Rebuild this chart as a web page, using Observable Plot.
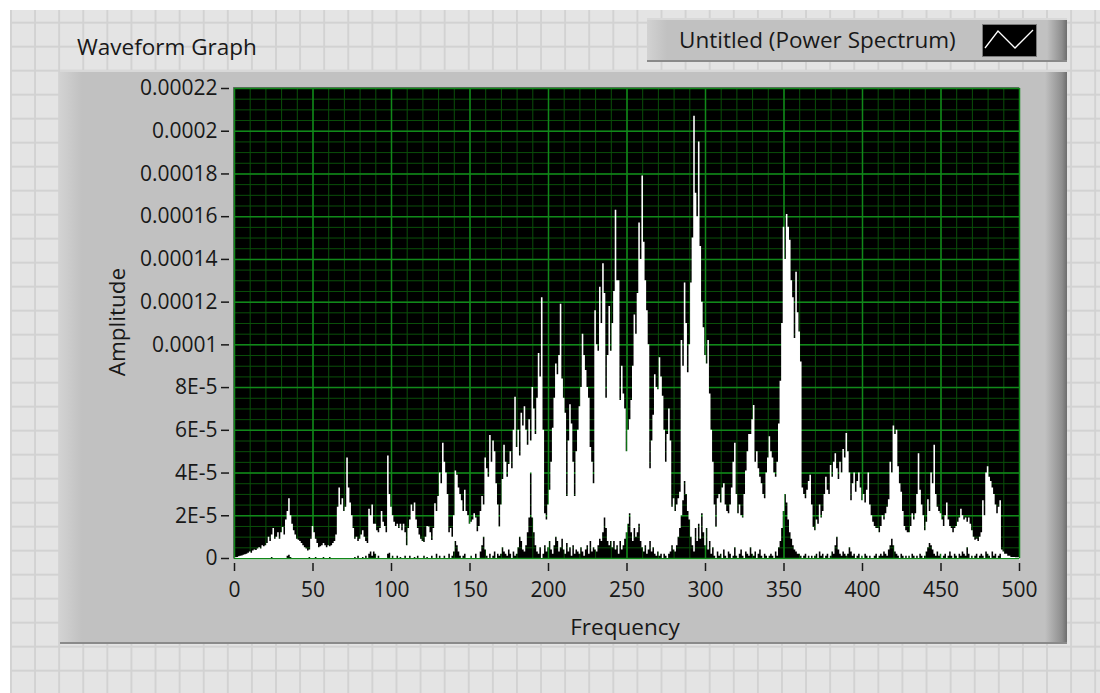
<!DOCTYPE html>
<html>
<head>
<meta charset="utf-8">
<script src="https://cdn.jsdelivr.net/npm/d3@7"></script>
<script src="https://cdn.jsdelivr.net/npm/@observablehq/plot@0.6"></script>
<style>
  html, body { margin: 0; padding: 0; }
  body { width: 1100px; height: 693px; position: relative; overflow: hidden; background: #ffffff;
         font-family: "Open Sans", "Noto Sans", sans-serif; color: #181818; }
  #bg { position: absolute; left: 10px; top: 10px; right: 0; bottom: 0;
        background-color: #e4e4e4;
        background-image: linear-gradient(to right, #d2d2d2 2px, transparent 2px),
                          linear-gradient(to bottom, #d2d2d2 2px, transparent 2px);
        background-size: 24.1px 24px; background-position: 0 11.7px; }
  #panel { position: absolute; left: 60px; top: 70px; width: 1007px; height: 574px;
           background: linear-gradient(to right, #d2d2d2 0px, #c1c1c1 22px, #c1c1c1 calc(100% - 22px), #8e8e8e calc(100% - 5px), #6e6e6e 100%);
           box-shadow: inset 0 2px 0 #d8d8d8, inset 0 -2px 0 #8a8a8a; }
  #legend { position: absolute; left: 647px; top: 18px; width: 420px; height: 44px;
           background: linear-gradient(to right, #d2d2d2 0px, #c1c1c1 20px, #c1c1c1 calc(100% - 20px), #8e8e8e calc(100% - 5px), #6e6e6e 100%);
           box-shadow: inset 0 2px 0 #d8d8d8, inset 0 -2px 0 #8a8a8a; }
  #legend .txt { position: absolute; left: 32px; top: 0; line-height: 44px; font-size: 22.5px; white-space: nowrap; }
  #legend svg { position: absolute; left: 335px; top: 6px; }
  #title { position: absolute; left: 77px; top: 32px; font-size: 22.5px; line-height: 30px; white-space: nowrap; }
  #plotbox { position: absolute; left: 233px; top: 87px; width: 785px; height: 470px;
             border-left: 1px solid #6a6a6a; border-top: 1px solid #6a6a6a;
             border-right: 1px solid #e2e2e2; border-bottom: 2px solid #e2e2e2; }
  #chart { position: absolute; left: 0; top: 0; }
  .alabel { position: absolute; font-size: 22.5px; white-space: nowrap; line-height: 28px; }
</style>
</head>
<body>
<div id="bg"></div>
<div id="panel"></div>
<div id="legend">
  <div class="txt">Untitled (Power Spectrum)</div>
  <svg width="55" height="33" viewBox="0 0 55 33">
    <rect x="0.5" y="0.5" width="54" height="32" fill="#000" stroke="#7a7a7a"/>
    <polyline points="3,24 16,7 33,24 51,6" fill="none" stroke="#fff" stroke-width="1.3"/>
  </svg>
</div>
<div id="title">Waveform Graph</div>
<div id="plotbox"></div>
<div id="chart"></div>
<div class="alabel" id="xlab" style="left:625px; top:613px; transform: translateX(-50%);">Frequency</div>
<div class="alabel" id="ylab" style="left:117px; top:322px; transform: translate(-50%,-50%) rotate(-90deg);">Amplitude</div>
<script>
// Frequency bins (Hz), one per spectrum sample
const freqs = d3.range(0, 501);

// Upper envelope of the power spectrum, in units of 1e-6 (one value per Hz, 0..500)
const peakValues = [
  0,0.3,0.5,0.8,1,1.2,1.5,1.8,2,2.5,
  3,2.5,3.5,4,3.8,4.5,5,4.5,6,5.5,
  6,7,10,8,11,14,9,10,12,9,
  12,14.5,11,18,22,28,20,16,13,11,
  9,8.5,8,7,6,5,4.5,3.5,4,9,
  15,12,9,7,5,5.5,6,7,6,5,
  6,5.5,6,7,8,11,24,33,25,28,
  22,24,47,33,26,20,14,9,10,8,
  9,11,13,10,8,7,23,20,25,16,
  16,13,12,14,22,17,15,12,48,30,
  24,20,17,15,16,14,16,13,16,12,
  6,14,18,25,22,26,18,14,11,9,
  8,7.5,10,15,14.7,12,8.4,14,25.6,22,
  29,40,35,54,45,40,30,12,14,10,
  20,41,39,33,30,27,22,32,22,20,
  16,17,18,21,19,12.5,15,22,29,25,
  47,42,38,57.6,45,55,50,35,25,14.7,
  25,37,53,45,38,44,50,42,60,75.5,
  52,60,48,68,62,71,60,53,65,55,
  80,70,58,75,96,85,122,60,21,18,
  25,32,45,61,75,91,86,95,119,84,
  75,68,29,55,72,63,45,29,50,60,
  71,80,105,95,88,80,75,52,45,35,
  116,100,97,127,110,138,124,75,95,118,
  97,110,125,163,130,130,74,90,77,70,
  50,60,65,74,90,114,105,124,157,140,
  179,148,130,116,100,42,55,67,86,80,
  79,94,85,76,60,45,58,70,55,24,
  28,22,25,28,31,102,90,129,110,87,
  100,129,150,207,171,160,195,146,120,108,
  95,91,102,77,60,45,25,14.6,28,30,
  26,33,35,25,22,21,25,33,45,54,
  30,21,25,20,19,30,41,50,58,58,
  65,71.6,45,50,42,38,35,30,28,40,
  47,57,50,47,40,38,45,63,83,110,
  155,140,161,155,149,130,122,103,134,115,
  106,92,33,30,28,32,36,39,25,14.5,
  13,18,16,25,19,22,30,38,32,30,
  43.5,38,45,49,42,37,45,40,51,47,
  58.5,50,40,27,35,40,31,36,40,33,
  27,30,26,32,40,25,20,17,15,14,
  14,12,15,20,18,21,24,27.5,45,40,
  62,58,60,43,35,31,22,15,13,12,
  12,15,21,18,21,30,49,32,25,20,
  13,17,27.5,22,40,35,53,30,24,22,
  21,18,15,20,26,18,15,14,12,14,
  15,17,19,23,20,18,19,17,19,16,
  13,10,8.5,9,8,10,12,27,20,40,
  43,38,36,33,30,25,21,24,27,4,
  3,2,2,1,1,0.5,0.5,0.5,0.3,0.3,
  0.3
];

// Lower envelope of the spectrum trace, in units of 1e-6 (one value per Hz, 0..500)
const troughValues = [
  0,0,0,0,0,0,0,0,0,0,
  0,0,0,0,0,0,0,0,0,0,
  0,0,0,0,0.5,0,0,0,0,0,
  0,0,0,0,1,1.5,0.5,0,0,0,
  0,0,0,0,0,0,0,0,0.5,0,
  0,0,0.5,0,0,0,0,0.5,0,0,
  0,0.5,0,0,0,0,0,0,0,0,
  0,0,0,0,0,0,0,0.5,0,1,
  0,0,0.5,0,1,0,2,3,1,3,
  2,0,1,0,0,0,0,0,2,2.5,
  0,1,0,0,1,0,0.5,0,0,1,
  0,0,1,0,0,0.5,0,1,0,0,
  0,1,0,0.5,0,0,1,0,0,2,
  0,1,0,0,1,0,0,2,0,1,
  3,8,6,3,1,0,1,2,0,0,
  0,1,0,0,2,0,0,3,6,10,
  4,1,0,2,0,1,3,0,2,1,
  2,5,3,2,1,4,2,0,3,1,
  2,5,10,8,4,3,6,12,19,40,
  19,12,6,3,2,5,0,2,6,3,
  5,8,4,2,6,10,8,3,5,9,
  4,2,7,3,5,1,6,2,4,3,
  2,5,3,1,4,6,2,8,3,5,
  4,3,6,9,8,12,19,14,8,6,
  8,5,8,4,6,2,8,4,6,9,
  12,16,21,12,8,14,10,12,16,8,
  5,3,6,2,4,8,3,5,2,1,
  3,1,2,0,2,1,0,2,3,6,
  4,3,6,10,14,20,27,36,30,22,
  18,10,6,3,14,8,16,9,21,12,
  6,14,4,8,2,5,1,0,3,1,
  2,0,4,1,0,3,2,0,1,5,
  1,0,2,4,1,0,3,2,1,5,
  2,1,3,0,2,4,1,0,2,1,
  0,1,2,1,0,3,1,5,8,14,
  22,30,26,18,12,9,6,4,3,2,
  2,1,0,1,2,0,1,0,1,0,
  1,2,0,3,1,2,0,1,2,0,
  1,3,2,6,10,4,2,1,3,2,
  1,2,5,3,1,2,0,1,2,0,
  1,0,2,1,0,1,0,0,1,2,
  0,1,2,1,3,2,1,4,6,9,
  6,3,2,1,0,2,1,0,1,0,
  1,0,2,1,0,1,0,2,1,0,
  1,3,5,7,6,4,2,1,3,1,
  2,0,1,2,0,1,3,1,0,2,
  1,0,2,1,3,2,1,5,2,0,
  1,0,1,2,0,1,2,1,0,3,
  2,1,0,3,1,2,0,1,2,0,
  0,0,0,0,0,0,0,0,0,0,
  0
];

// Axis ticks and labels
const xTicks = [0, 50, 100, 150, 200, 250, 300, 350, 400, 450, 500];
const yTicks = [0, 0.00002, 0.00004, 0.00006, 0.00008, 0.0001, 0.00012, 0.00014, 0.00016, 0.00018, 0.0002, 0.00022];
const yLabels = ["0", "2E-5", "4E-5", "6E-5", "8E-5", "0.0001", "0.00012", "0.00014", "0.00016", "0.00018", "0.0002", "0.00022"];
const xMinorTicks = d3.range(0, 501, 10);
const yMinorTicks = d3.range(0, 45).map(k => k * 0.000005);

const data = freqs.map((f, i) => ({ f, hi: peakValues[i] * 1e-6, lo: troughValues[i] * 1e-6 }));
const yFmt = new Map(yTicks.map((t, i) => [t, yLabels[i]]));

const chart = Plot.plot({
  width: 1100,
  height: 693,
  marginLeft: 234,
  marginRight: 81,
  marginTop: 88,
  marginBottom: 135,
  x: { domain: [0, 500] },
  y: { domain: [0, 0.00022] },
  style: { background: "transparent", fontFamily: "Open Sans, Noto Sans, sans-serif", fontSize: "21px", color: "#181818", overflow: "visible" },
  marks: [
    Plot.frame({ fill: "black" }),
    Plot.gridX({ ticks: xMinorTicks, stroke: "#0a4f0a", strokeOpacity: 1, strokeWidth: 1 }),
    Plot.gridY({ ticks: yMinorTicks, stroke: "#0a4f0a", strokeOpacity: 1, strokeWidth: 1 }),
    Plot.gridX({ ticks: xTicks, stroke: "#11881a", strokeOpacity: 1, strokeWidth: 1.5 }),
    Plot.gridY({ ticks: yTicks, stroke: "#11881a", strokeOpacity: 1, strokeWidth: 1.5 }),
    Plot.areaY(data, { x: "f", y1: "lo", y2: "hi", curve: "step", fill: "white" }),
    Plot.axisX({ ticks: xTicks, tickSize: 8, tickPadding: 11, dy: 5, label: null, strokeWidth: 1.5 }),
    Plot.axisY({ ticks: yTicks, tickSize: 8, tickPadding: 4, dx: -5, label: null, strokeWidth: 1.5, tickFormat: d => yFmt.get(d) })
  ]
});
document.getElementById("chart").appendChild(chart);
</script>
</body>
</html>
